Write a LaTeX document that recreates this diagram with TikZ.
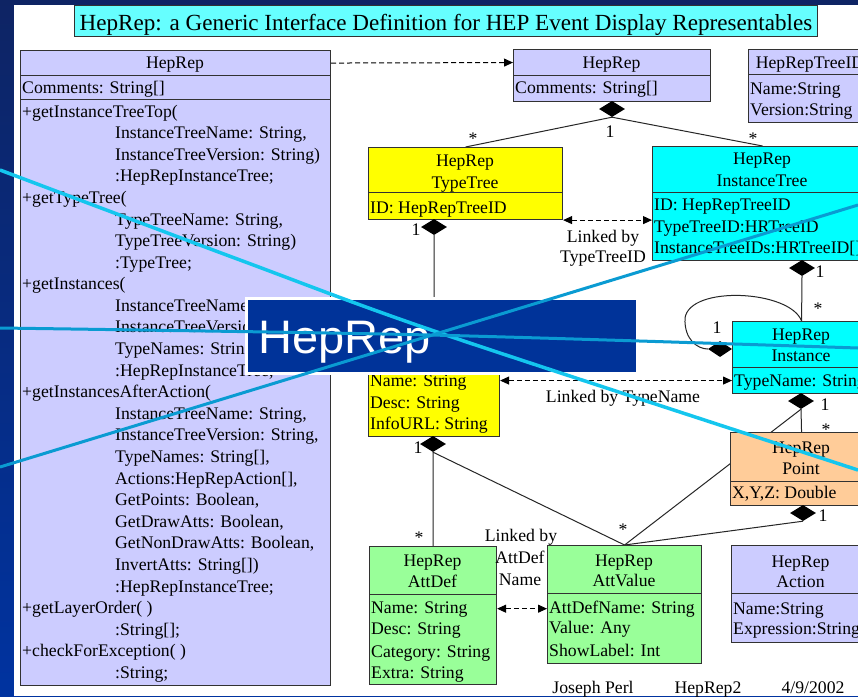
\documentclass[tikz,border=0pt]{standalone}
\usepackage{fontspec}
\setmainfont{Liberation Serif}
\newfontfamily\bannerfont{Liberation Sans}
\usetikzlibrary{shapes.geometric,arrows.meta,calc}
\pgfdeclarelayer{back}\pgfdeclarelayer{bg}\pgfdeclarelayer{fg}
\pgfsetlayers{back,bg,main,fg}
\definecolor{lav}{RGB}{204,204,255}
\definecolor{ylw}{RGB}{255,255,0}
\definecolor{cyn}{RGB}{0,255,255}
\definecolor{org}{RGB}{255,204,153}
\definecolor{grn}{RGB}{153,255,153}
\definecolor{titlecyan}{RGB}{102,255,255}
\definecolor{boxborder}{RGB}{50,50,50}
\definecolor{slideblue}{RGB}{0,51,160}
\definecolor{slidetop}{RGB}{14,36,100}
\definecolor{bannerblue}{RGB}{0,51,153}
\definecolor{ovlA}{RGB}{20,198,238}
\definecolor{ovlB}{RGB}{10,155,210}
\newcommand\umlfont{\fontsize{17.7}{21}\selectfont}
\newcommand\titlefont{\fontsize{23.1}{26}\selectfont}
\begin{document}
\begin{tikzpicture}[x=1pt,y=-1pt,
  comp/.style={draw=boxborder, line width=1.1pt, inner sep=0pt, anchor=north west},
  ltxt/.style={font=\umlfont, inner sep=0pt, anchor=base west},
  ctxt/.style={font=\umlfont, inner sep=0pt, anchor=base},
  mult/.style={font=\umlfont, inner sep=0pt, anchor=center},
  dia/.style={diamond, fill=black, inner sep=0pt, minimum width=26pt, minimum height=16pt},
  assoc/.style={draw=black!85, line width=1pt},
  dashlink/.style={draw=black, line width=1pt, dash pattern=on 5pt off 3pt},
  >={Triangle[length=9pt,width=8pt]}
]
\useasboundingbox (0,0) rectangle (858,696);
\begin{pgfonlayer}{back}
  \shade[top color=slidetop, bottom color=slideblue] (0,0) rectangle (858,696);
  \fill[white] (14,5) rectangle (858,696);
\end{pgfonlayer}

% title
\node[comp, fill=titlecyan, minimum width=743pt, minimum height=31pt] (titlebox) at (74,5) {};
\node[font=\titlefont, inner sep=0pt, anchor=base] (title) at (446,30) {HepRep: a Generic Interface Definition for HEP Event Display Representables};

% big HepRep box
\node[comp, fill=lav, minimum width=310pt, minimum height=25pt] (bigH) at (20,50) {};
\node[comp, fill=lav, minimum width=310pt, minimum height=24pt] (bigA) at (20,75) {};
\node[comp, fill=lav, minimum width=310pt, minimum height=586pt] (bigM) at (20,99) {};
\node[ctxt] (bigHt) at (175,68) {HepRep};
\node[ltxt] (bigAt) at (22,93) {Comments: String[]};
\node[ltxt] (m1) at (22,117) {+getInstanceTreeTop(};
\node[ltxt] (m2) at (115,138.6) {InstanceTreeName: String,};
\node[ltxt] (m3) at (115,160.2) {InstanceTreeVersion: String)};
\node[ltxt] (m4) at (115,181.8) {:HepRepInstanceTree;};
\node[ltxt] (m5) at (22,203.4) {+getTypeTree(};
\node[ltxt] (m6) at (115,225) {TypeTreeName: String,};
\node[ltxt] (m7) at (115,246.5) {TypeTreeVersion: String)};
\node[ltxt] (m8) at (115,268.1) {:TypeTree;};
\node[ltxt] (m9) at (22,289.7) {+getInstances(};
\node[ltxt] (m10) at (115,311.3) {InstanceTreeName: String,};
\node[ltxt] (m11) at (115,332.9) {InstanceTreeVersion: String,};
\node[ltxt] (m12) at (115,354.5) {TypeNames: String[],};
\node[ltxt] (m13) at (115,376.1) {:HepRepInstanceTree;};
\node[ltxt] (m14) at (22,397.7) {+getInstancesAfterAction(};
\node[ltxt] (m15) at (115,419.3) {InstanceTreeName: String,};
\node[ltxt] (m16) at (115,440.9) {InstanceTreeVersion: String,};
\node[ltxt] (m17) at (115,462.4) {TypeNames: String[],};
\node[ltxt] (m18) at (115,484) {Actions:HepRepAction[],};
\node[ltxt] (m19) at (115,505.6) {GetPoints: Boolean,};
\node[ltxt] (m20) at (115,527.2) {GetDrawAtts: Boolean,};
\node[ltxt] (m21) at (115,548.8) {GetNonDrawAtts: Boolean,};
\node[ltxt] (m22) at (115,570.4) {InvertAtts: String[])};
\node[ltxt] (m23) at (115,592) {:HepRepInstanceTree;};
\node[ltxt] (m24) at (22,613.6) {+getLayerOrder( )};
\node[ltxt] (m25) at (115,635.2) {:String[];};
\node[ltxt] (m26) at (22,656.8) {+checkForException( )};
\node[ltxt] (m27) at (115,678.4) {:String;};

% small HepRep box
\node[comp, fill=lav, minimum width=197pt, minimum height=26pt] (topH) at (513,49) {};
\node[comp, fill=lav, minimum width=197pt, minimum height=26pt] (topA) at (513,75) {};
\node[ctxt] (topHt) at (611.5,68) {HepRep};
\node[ltxt] (topAt) at (515,93) {Comments: String[]};

% HepRepTreeID
\node[comp, fill=lav, minimum width=124pt, minimum height=25pt] (trH) at (748,49) {};
\node[comp, fill=lav, minimum width=124pt, minimum height=48pt] (trA) at (748,74) {};
\node[ctxt] (trHt) at (810,68) {HepRepTreeID};
\node[ltxt] (tr1) at (750,94) {Name:String};
\node[ltxt] (tr2) at (750,115) {Version:String};

% TypeTree
\node[comp, fill=ylw, minimum width=194pt, minimum height=45pt] (ttH) at (368,147) {};
\node[comp, fill=ylw, minimum width=194pt, minimum height=27pt] (ttA) at (368,192) {};
\node[ctxt] (ttH1) at (465,166) {HepRep};
\node[ctxt] (ttH2) at (465,188) {TypeTree};
\node[ltxt] (tt1) at (370,213) {ID: HepRepTreeID};

% InstanceTree
\node[comp, fill=cyn, minimum width=220pt, minimum height=46pt] (itH) at (652,146) {};
\node[comp, fill=cyn, minimum width=220pt, minimum height=68pt] (itA) at (652,192) {};
\node[ctxt] (itH1) at (762,164) {HepRep};
\node[ctxt] (itH2) at (762,186) {InstanceTree};
\node[ltxt] (it1) at (654,210) {ID: HepRepTreeID};
\node[ltxt] (it2) at (654,232) {TypeTreeID:HRTreeID};
\node[ltxt] (it3) at (654,253) {InstanceTreeIDs:HRTreeID[]};

% Type
\node[comp, fill=ylw, minimum width=131pt, minimum height=47pt] (tyH) at (368,322) {};
\node[comp, fill=ylw, minimum width=131pt, minimum height=67pt] (tyA) at (368,369) {};
\node[ltxt] (ty1) at (370,386) {Name: String};
\node[ltxt] (ty2) at (370,408) {Desc: String};
\node[ltxt] (ty3) at (370,429) {InfoURL: String};

% Instance
\node[comp, fill=cyn, minimum width=138pt, minimum height=46pt] (inH) at (732,321) {};
\node[comp, fill=cyn, minimum width=138pt, minimum height=26pt] (inA) at (732,367) {};
\node[ctxt] (inH1) at (801,340) {HepRep};
\node[ctxt] (inH2) at (801,361) {Instance};
\node[ltxt] (in1) at (734,386) {TypeName: String};

% Point
\node[comp, fill=org, minimum width=142pt, minimum height=49pt] (ptH) at (730,432) {};
\node[comp, fill=org, minimum width=142pt, minimum height=24pt] (ptA) at (730,481) {};
\node[ctxt] (ptH1) at (801,453) {HepRep};
\node[ctxt] (ptH2) at (801,474) {Point};
\node[ltxt] (pt1) at (732,498) {X,Y,Z: Double};

% AttDef
\node[comp, fill=grn, minimum width=127pt, minimum height=48pt] (adH) at (369,546) {};
\node[comp, fill=grn, minimum width=127pt, minimum height=90pt] (adA) at (369,594) {};
\node[ctxt] (adH1) at (432.5,566) {HepRep};
\node[ctxt] (adH2) at (432.5,587) {AttDef};
\node[ltxt] (ad1) at (371,613) {Name: String};
\node[ltxt] (ad2) at (371,634) {Desc: String};
\node[ltxt] (ad3) at (371,657) {Category: String};
\node[ltxt] (ad4) at (371,678) {Extra: String};

% AttValue
\node[comp, fill=grn, minimum width=154pt, minimum height=48pt] (avH) at (547,545) {};
\node[comp, fill=grn, minimum width=154pt, minimum height=70pt] (avA) at (547,593) {};
\node[ctxt] (avH1) at (624,566) {HepRep};
\node[ctxt] (avH2) at (624,586) {AttValue};
\node[ltxt] (avr1) at (549,613) {AttDefName: String};
\node[ltxt] (avr2) at (549,633) {Value: Any};
\node[ltxt] (avr3) at (549,656) {ShowLabel: Int};

% Action
\node[comp, fill=lav, minimum width=139pt, minimum height=48pt] (acH) at (731,545) {};
\node[comp, fill=lav, minimum width=139pt, minimum height=49pt] (acA) at (731,593) {};
\node[ctxt] (acH1) at (800.5,567) {HepRep};
\node[ctxt] (acH2) at (800.5,587) {Action};
\node[ltxt] (ac1) at (733,614) {Name:String};
\node[ltxt] (ac2) at (733,634) {Expression:String};

% diamonds
\node[dia] (dTop) at (612,109) {};
\node[dia] (dTT) at (434,227) {};
\node[dia] (dIT) at (802,268) {};
\node[dia, minimum width=24pt] (dLoop) at (720,349) {};
\node[dia] (dInst) at (801,401) {};
\node[dia] (dType) at (433,444) {};
\node[dia] (dPt) at (803,513) {};

% multiplicities
\node[mult] (l1) at (610,132) {1};
\node[mult] (l2) at (473,139) {*};
\node[mult] (l3) at (753,139) {*};
\node[mult] (l4) at (416,230) {1};
\node[mult] (l5) at (820,272) {1};
\node[mult] (l6) at (818,309) {*};
\node[mult] (l7) at (717,328) {1};
\node[mult] (l8) at (825,405) {1};
\node[mult] (l9) at (826,430) {*};
\node[mult] (l10) at (418,448) {1};
\node[mult] (l11) at (419,538) {*};
\node[mult] (l12) at (623,530) {*};
\node[mult] (l13) at (823,516) {1};

% link labels
\node[ctxt] (k1) at (603,242) {Linked by};
\node[ctxt] (k2) at (603,262) {TypeTreeID};
\node[ctxt] (k3) at (623,402) {Linked by TypeName};
\node[ctxt] (k4) at (521,541) {Linked by};
\node[ctxt] (k5) at (520,563) {AttDef};
\node[ctxt] (k6) at (520,585) {Name};

% footer
\node[ctxt] (f1) at (593,693) {Joseph Perl};
\node[ctxt] (f2) at (708,693) {HepRep2};
\node[ctxt] (f3) at (813,693) {4/9/2002};

% connectors
\begin{pgfonlayer}{bg}
  \draw[assoc] (dTop.south) -- (ttH.north);
  \draw[assoc] (dTop.south) -- (itH.north);
  \draw[assoc] (dTT.south) -- (tyH.north);
  \draw[assoc] (dIT.south) -- (inH.north);
  \draw[assoc] (inH.north) .. controls (790,290) and (690,285) .. (685,318)
                           .. controls (684,340) and (698,349) .. (dLoop.west);
  \draw[assoc] (dInst.south) -- (ptH.north);
  \draw[assoc] (dInst.south) -- (avH.north);
  \draw[assoc] (dType.south) -- (adH.north);
  \draw[assoc] (dType.south) -- (avH.north);
  \draw[assoc] (dPt.south) -- (avH.north);
  \draw[dashlink,->] (bigH.east) -- (topH.west);
  \draw[dashlink,<->] (ttA.south east) -- (ttA.south east -| itA.west);
  \draw[dashlink,<->] (tyA.east |- inA.west) -- (inA.west);
  \draw[dashlink,<->] (adA.east |- avr1.west) -- (avr1.west -| avA.west);
\end{pgfonlayer}

% banner and overlay lines
\begin{pgfonlayer}{fg}
  \node[anchor=north west, fill=bannerblue, draw=white, line width=3pt, inner sep=0pt,
        minimum width=391pt, minimum height=75pt] (banner) at (245,297) {};
  \node[font=\bannerfont\fontsize{47}{47}\selectfont, text=white, inner sep=0pt, anchor=base west] (bannertext) at (258,353) {HepRep};
  \draw[ovlA, line width=3.5pt] plot[smooth] coordinates {(0,170) (240,260) (440,333) (858,470)};
  \draw[ovlB, line width=3pt] (0,467) -- (858,205);
  \draw[ovlB, line width=3pt] plot[smooth] coordinates {(0,328) (430,335) (858,348)};
\end{pgfonlayer}
\end{tikzpicture}
\end{document}
